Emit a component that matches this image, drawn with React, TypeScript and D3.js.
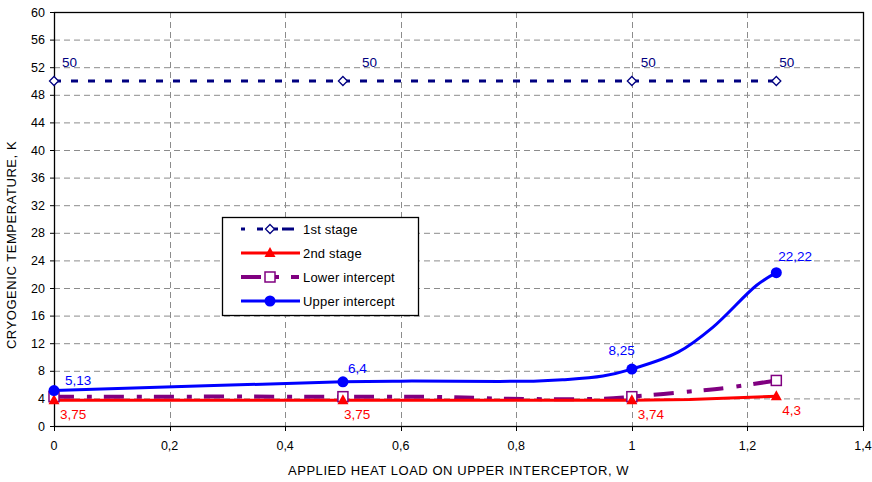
import React from 'react';
import * as d3 from 'd3';

// marker points
const xMarks = [0, 0.5, 1, 1.25];
const stage1 = [50, 50, 50, 50];
const stage2 = [3.75, 3.75, 3.74, 4.3];
const lowerMarks = [4.25, 4.25, 4.25, 6.6];
const upperMarks = [5.13, 6.4, 8.25, 22.22];

// smoothed traces
const stage2LineX = [0, 0.5, 1, 1.1, 1.25];
const stage2LineY = [3.75, 3.75, 3.74, 3.85, 4.3];
const lowerLineX = [0, 0.5, 0.68, 0.78, 0.95, 1, 1.1, 1.17, 1.25];
const lowerLineY = [4.25, 4.25, 4.2, 3.95, 3.95, 4.25, 5.0, 5.6, 6.6];
const upperLineX = [0, 0.5, 0.6, 0.83, 0.88, 0.95, 1, 1.08, 1.14, 1.216, 1.25];
const upperLineY = [5.13, 6.4, 6.5, 6.5, 6.7, 7.25, 8.25, 10.7, 14.3, 20.4, 22.22];

const stage1Labels = ['50', '50', '50', '50'];
const stage2Labels = ['3,75', '3,75', '3,74', '4,3'];
const upperLabels = ['5,13', '6,4', '8,25', '22,22'];

const xTicks = [0, 0.2, 0.4, 0.6, 0.8, 1, 1.2, 1.4];
const yTicks = [0, 4, 8, 12, 16, 20, 24, 28, 32, 36, 40, 44, 48, 52, 56, 60];

const legendNames = ['1st stage', '2nd stage', 'Lower intercept', 'Upper intercept'];

const W = 872;
const H = 482;
const margin = { top: 12, right: 9, bottom: 56, left: 54 };
const FONT = '"Liberation Sans", Arial, sans-serif';

const NAVY = '#000080';
const RED = '#ff0000';
const PURPLE = '#800080';
const BLUE = '#0000ff';

const fmt = (v: number) => String(v).replace('.', ',');

const Diamond = ({ x, y, s = 4.5 }: { x: number; y: number; s?: number }) => (
  <path d={`M${x},${y - s}L${x + s},${y}L${x},${y + s}L${x - s},${y}Z`} fill="white" stroke={NAVY} strokeWidth={1.3} />
);
const Tri = ({ x, y }: { x: number; y: number }) => (
  <path d={`M${x},${y - 6}L${x + 5.5},${y + 4}L${x - 5.5},${y + 4}Z`} fill={RED} />
);
const Sq = ({ x, y }: { x: number; y: number }) => (
  <rect x={x - 5} y={y - 5} width={10} height={10} fill="white" stroke={PURPLE} strokeWidth={1.5} />
);
const Dot = ({ x, y }: { x: number; y: number }) => <circle cx={x} cy={y} r={5.5} fill={BLUE} />;

export default function App() {
  const x = d3.scaleLinear().domain([0, 1.4]).range([margin.left, W - margin.right]);
  const y = d3.scaleLinear().domain([0, 60]).range([H - margin.bottom, margin.top]);

  const smooth = d3
    .line<[number, number]>()
    .x((d) => x(d[0]))
    .y((d) => y(d[1]))
    .curve(d3.curveCatmullRom.alpha(0.5));
  const straight = d3
    .line<[number, number]>()
    .x((d) => x(d[0]))
    .y((d) => y(d[1]));

  const zip = (a: number[], b: number[]) => a.map((v, i) => [v, b[i]] as [number, number]);

  const x0 = x(0);
  const x1 = x(1.4);
  const y0 = y(0);
  const y1 = y(60);

  // per-point label nudges (px)
  const s1dx = [8, 19, 9, 3];
  const s2dx = [6, 1, 6, 6];
  const upDx = [11, 5, 3, 2];
  const upDy = [-6, -9, -14, -12];
  const upAnchor = ['start', 'start', 'end', 'start'];

  const lg = { x: 222, y: 217, w: 196, h: 98 };
  const rowY = [229, 253, 277, 301];

  return (
    <svg width={W} height={H} style={{ position: 'absolute', left: 0, top: 0, background: 'white' }} fontFamily={FONT}>
      {/* grid */}
      <g stroke="#8c8c8c" strokeWidth={1} strokeDasharray="6,4">
        {yTicks.slice(1, -1).map((t) => (
          <line key={'gy' + t} x1={x0} x2={x1} y1={y(t) + 0.5} y2={y(t) + 0.5} />
        ))}
        {xTicks.slice(1, -1).map((t) => (
          <line key={'gx' + t} x1={Math.round(x(t)) + 0.5} x2={Math.round(x(t)) + 0.5} y1={y1} y2={y0} />
        ))}
      </g>
      {/* frame */}
      <rect x={x0 + 0.5} y={y1 + 0.5} width={x1 - x0} height={y0 - y1} fill="none" stroke="#000" strokeWidth={1.3} />
      {/* ticks */}
      <g stroke="#000" strokeWidth={1}>
        {yTicks.map((t) => (
          <line key={'ty' + t} x1={x0 - 4} x2={x0} y1={y(t) + 0.5} y2={y(t) + 0.5} />
        ))}
        {xTicks.map((t) => (
          <line key={'tx' + t} x1={Math.round(x(t)) + 0.5} x2={Math.round(x(t)) + 0.5} y1={y0} y2={y0 + 5} />
        ))}
      </g>
      <g fontSize={12.5} fill="#000">
        {yTicks.map((t) => (
          <text key={'ly' + t} x={x0 - 9} y={y(t) + 4.5} textAnchor="end">
            {t}
          </text>
        ))}
        {xTicks.map((t) => (
          <text key={'lx' + t} x={x(t)} y={450} textAnchor="middle">
            {fmt(Math.round(t * 10) / 10)}
          </text>
        ))}
      </g>
      <text x={(x0 + x1) / 2} y={475} textAnchor="middle" fontSize={13} letterSpacing={0.55}>
        APPLIED HEAT LOAD ON UPPER INTERCEPTOR, W
      </text>
      <text transform={`translate(16,${245}) rotate(-90)`} textAnchor="middle" fontSize={13} letterSpacing={0.55}>
        CRYOGENIC TEMPERATURE, K
      </text>

      {/* series lines */}
      <path d={straight(zip(xMarks, stage1)) || ''} fill="none" stroke={NAVY} strokeWidth={3} strokeDasharray="7,10" />
      <path d={smooth(zip(lowerLineX, lowerLineY)) || ''} fill="none" stroke={PURPLE} strokeWidth={4} strokeDasharray="20,13,5,12" />
      <path d={straight(zip(stage2LineX, stage2LineY)) || ''} fill="none" stroke={RED} strokeWidth={3} />
      <path d={smooth(zip(upperLineX, upperLineY)) || ''} fill="none" stroke={BLUE} strokeWidth={3} />

      {/* markers */}
      {xMarks.map((v, i) => (
        <g key={'m' + i}>
          <Diamond x={x(v)} y={y(stage1[i])} />
          <Sq x={x(v)} y={y(lowerMarks[i])} />
          <Tri x={x(v)} y={y(stage2[i])} />
          <Dot x={x(v)} y={y(upperMarks[i])} />
        </g>
      ))}

      {/* data labels */}
      <g fontSize={13.5}>
        {xMarks.map((v, i) => (
          <text key={'l1' + i} x={x(v) + s1dx[i]} y={y(stage1[i]) - 14} fill={NAVY}>
            {stage1Labels[i]}
          </text>
        ))}
        {xMarks.map((v, i) => (
          <text key={'l2' + i} x={x(v) + s2dx[i]} y={y(stage2[i]) + 19} fill={RED}>
            {stage2Labels[i]}
          </text>
        ))}
        {xMarks.map((v, i) => (
          <text
            key={'l4' + i}
            x={x(v) + upDx[i]}
            y={y(upperMarks[i]) + upDy[i]}
            fill={BLUE}
            textAnchor={upAnchor[i] as any}
          >
            {upperLabels[i]}
          </text>
        ))}
      </g>

      {/* legend */}
      <rect x={lg.x + 0.5} y={lg.y + 0.5} width={lg.w} height={lg.h} fill="white" stroke="#000" strokeWidth={1.3} />
      <g>
        <line x1={241} x2={300} y1={rowY[0]} y2={rowY[0]} stroke={NAVY} strokeWidth={3} strokeDasharray="4,12,6,11,4" />
        <Diamond x={270} y={rowY[0]} />
        <line x1={241} x2={300} y1={rowY[1]} y2={rowY[1]} stroke={RED} strokeWidth={3} />
        <Tri x={270} y={rowY[1]} />
        <line x1={241} x2={300} y1={rowY[2]} y2={rowY[2]} stroke={PURPLE} strokeWidth={4} strokeDasharray="20,12,6,12,8" />
        <Sq x={270} y={rowY[2]} />
        <line x1={241} x2={300} y1={rowY[3]} y2={rowY[3]} stroke={BLUE} strokeWidth={3} />
        <Dot x={270} y={rowY[3]} />
        {legendNames.map((n, i) => (
          <text key={n} x={303} y={rowY[i] + 4.5} fontSize={13} letterSpacing={0.2}>
            {n}
          </text>
        ))}
      </g>
    </svg>
  );
}
